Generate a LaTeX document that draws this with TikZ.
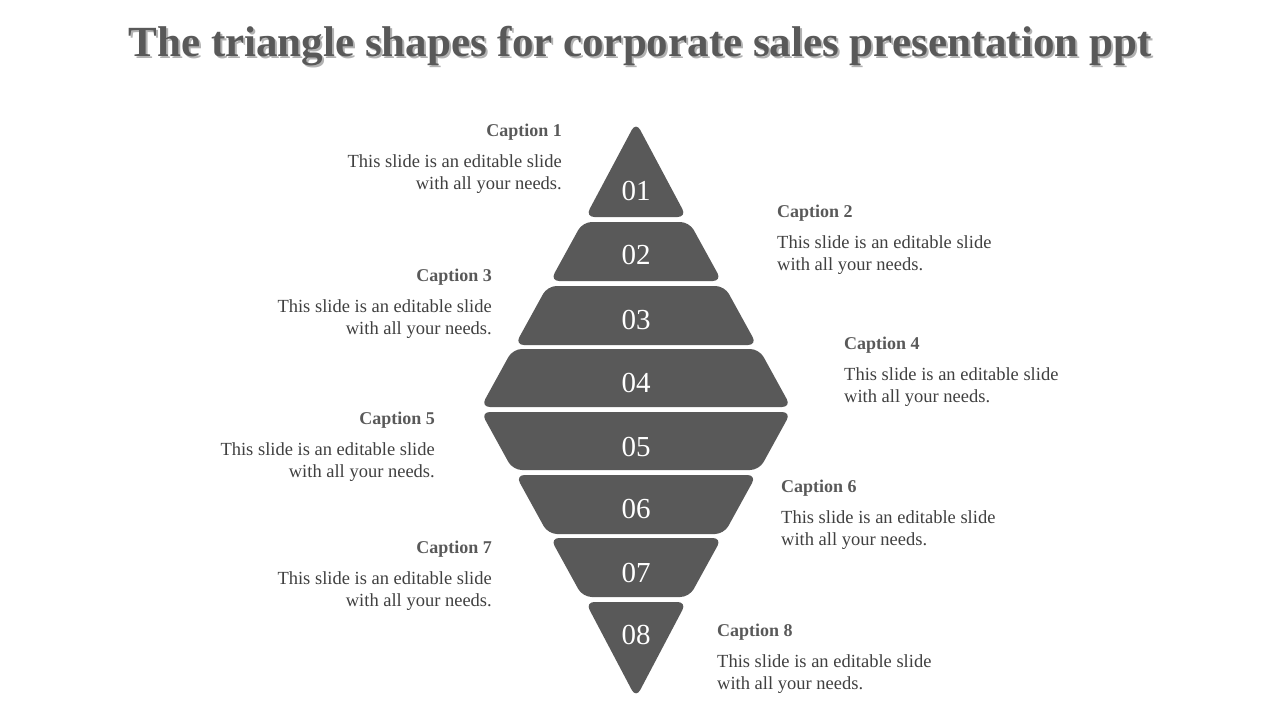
\documentclass[tikz,border=0pt]{standalone}
\usepackage{fontspec}
\setmainfont{Liberation Serif}
\definecolor{pg}{HTML}{595959}
\definecolor{tx}{HTML}{404040}
\begin{document}
\begin{tikzpicture}[x=1pt,y=-1pt,
  piece/.style={fill=pg,rounded corners=9pt},
  num/.style={text=white,font=\fontsize{29}{29}\selectfont},
  captxt/.style={text=pg,font=\fontsize{18}{20}\selectfont\bfseries,inner sep=0pt},
  body/.style={text=tx,font=\fontsize{18.5}{22.5}\selectfont,inner sep=0pt}]
\useasboundingbox (0,0) rectangle (1280,720);
\node[text=black!30,font=\fontsize{43}{46}\selectfont\bfseries] at (642,48) {The triangle shapes for corporate sales presentation ppt};
\node[text=pg,font=\fontsize{43}{46}\selectfont\bfseries] (title) at (640,46) {The triangle shapes for corporate sales presentation ppt};
\def\k{0.55}
\foreach \i/\a/\b in {1/128/217,2/222/281,3/286/345,4/349/407}{
  \pgfmathsetmacro\wa{(\a-125)*\k}\pgfmathsetmacro\wb{(\b-125)*\k}
  \ifnum\i=1
   \fill[piece] (636-\wb,\b) -- (636,\a-6) -- (636+\wb,\b) -- cycle;
  \else
   \fill[piece] (636-\wb,\b) -- (636-\wa,\a) -- (636+\wa,\a) -- (636+\wb,\b) -- cycle;
  \fi
}
\foreach \i/\a/\b in {5/412/470,6/475/534,7/538/597,8/602/692}{
  \pgfmathsetmacro\wa{(694-\a)*\k}\pgfmathsetmacro\wb{(694-\b)*\k}
  \ifnum\i=8
   \fill[piece] (636-\wa,\a) -- (636,\b+6) -- (636+\wa,\a) -- cycle;
  \else
   \fill[piece] (636-\wa,\a) -- (636-\wb,\b) -- (636+\wb,\b) -- (636+\wa,\a) -- cycle;
  \fi
}
\foreach \n/\y in {01/191,02/255,03/320,04/383,05/447,06/509,07/573,08/635}
  \node[num] (n\n) at (636,\y) {\n};
\foreach \n/\x/\y in {1/562/132,3/492/277,5/435/420,7/492/549}{
  \node[captxt,anchor=east] (c\n) at (\x,\y) {Caption \n};
  \node[body,anchor=north east,align=right] (b\n) at (\x,\y+22) {This slide is an editable slide\\with all your needs.};
}
\foreach \n/\x/\y in {2/777/213,4/844/345,6/781/488,8/717/632}{
  \node[captxt,anchor=west] (c\n) at (\x,\y) {Caption \n};
  \node[body,anchor=north west,align=left] (b\n) at (\x,\y+22) {This slide is an editable slide\\with all your needs.};
}
\end{tikzpicture}
\end{document}
